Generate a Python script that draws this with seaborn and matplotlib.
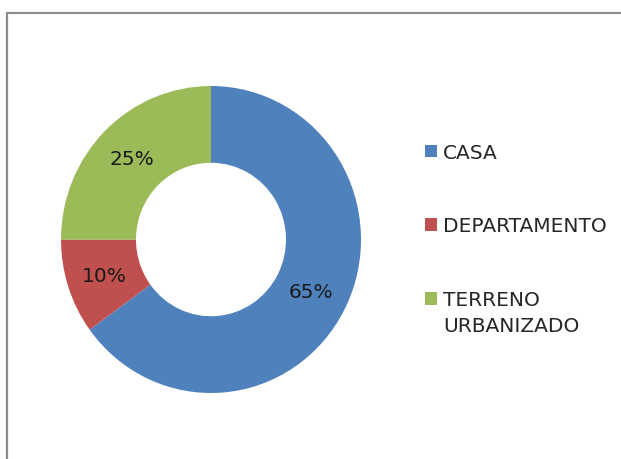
import matplotlib
matplotlib.use("Agg")
import matplotlib.pyplot as plt
import seaborn as sns
from matplotlib.legend_handler import HandlerPatch
from matplotlib.lines import Line2D
from matplotlib.patches import Rectangle

# data
categories = ["CASA", "DEPARTAMENTO", "TERRENO\nURBANIZADO"]
shares = [65, 10, 25]
colors = ["#4F81BD", "#C0504D", "#9BBB59"]

sns.set_theme(style="white")
plt.rcParams['font.family'] = ['DejaVu Sans']

fig = plt.figure(figsize=(6.21, 4.60), dpi=100)
ax = fig.add_axes([61 / 621, 1 - 394 / 460, 300 / 621, 307 / 460])

palette = sns.color_palette(colors)
wedges, texts, autotexts = ax.pie(
    shares, colors=palette, startangle=90, counterclock=False,
    autopct='%.0f%%', pctdistance=0.75,
    wedgeprops=dict(width=0.5, edgecolor='none'),
    textprops=dict(fontsize=14.5, color='#1a1a1a'),
)
ax.set_aspect('auto')
ax.set_xlim(-1, 1)
ax.set_ylim(-1, 1)
ax.axis('off')


def square_handle(lift):
  def make(legend, orig_handle, xdescent, ydescent, width, height, fontsize):
    return Rectangle((-xdescent, -ydescent + lift * fontsize), width, height)
  return make


handler_map = {wedges[2]: HandlerPatch(patch_func=square_handle(0.72))}
leg = fig.legend(
    wedges, categories, handler_map=handler_map,
    loc='upper left', bbox_to_anchor=(425 / 621, 1 - 144 / 460),
    frameon=False, fontsize=14.5, borderpad=0, borderaxespad=0,
    handlelength=0.6, handleheight=0.6, handletextpad=0.3,
    labelspacing=2.7,
)
for t in leg.get_texts():
  t.set_linespacing(1.5)

# chart-area border (top and left edges visible)
border = dict(color='#8c8c8c', linewidth=1.6, transform=fig.transFigure)
fig.add_artist(Line2D([7 / 621, 1.0], [1 - 14 / 460, 1 - 14 / 460], **border))
fig.add_artist(Line2D([7 / 621, 7 / 621], [0.0, 1 - 14 / 460], **border))

fig.savefig('out.png', dpi=100)
